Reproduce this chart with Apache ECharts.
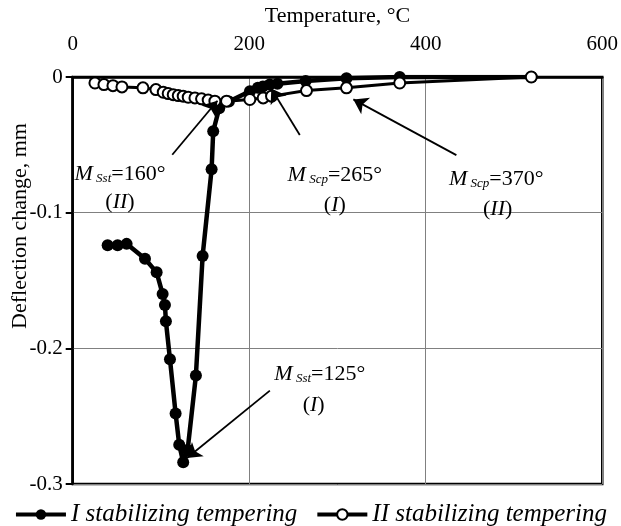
<!DOCTYPE html>
<html>
<head>
<meta charset="UTF-8" />
<title>Deflection change</title>
<script src="https://cdn.jsdelivr.net/npm/echarts@6/dist/echarts.min.js"></script>
<style type="text/css">
body{
	margin: 0px;
	background: #fff;
}
#chart{
	width: 621px;
	height: 526px;
}
</style>
</head>
<body>
<div id="chart"></div>

<script type="text/javascript">

// series I: stabilizing tempering I
var tempI = [39.6, 50.9, 61.1, 81.9, 95.1, 101.9, 104.5, 105.6, 110.2, 116.6, 120.7, 125.2, 130.2, 139.6, 147.2, 157.4, 159.2, 166, 177, 200.8, 209.8, 215.5, 223.3, 232, 264, 310.2, 370.5, 520];
var defI = [-0.124, -0.124, -0.123, -0.134, -0.144, -0.160, -0.168, -0.180, -0.208, -0.248, -0.271, -0.284, -0.275, -0.220, -0.132, -0.068, -0.040, -0.023, -0.018, -0.0105, -0.008, -0.007, -0.0056, -0.005, -0.003, -0.001, 0, 0];

// series II
var tempII = [25.2, 35.4, 45.6, 55.8, 79.6, 94.3, 102.6, 108.2, 113.9, 119.6, 125.2, 130.9, 138.5, 146.0, 153.5, 161.1, 174.3, 200.7, 215.8, 225.3, 264.9, 310.2, 370.5, 519.6];
var defII = [-0.0044, -0.0056, -0.0064, -0.0073, -0.0080, -0.0093, -0.0112, -0.0122, -0.0130, -0.0137, -0.0141, -0.0149, -0.0154, -0.0161, -0.0170, -0.0178, -0.0178, -0.0166, -0.0154, -0.0141, -0.0100, -0.0080, -0.0044, 0];

var seriesNames = ['I stabilizing tempering', 'II stabilizing tempering'];
var xTicks = [0, 600, 200];   // min, max, interval
var yTicks = [-0.3, 0, 0.1];

// annotation arrows, [from, to] in data coords
var arrows = [
	[[112.8, -0.0573], [164, -0.0175]],
	[[257.3, -0.0427], [225, -0.0085]],
	[[434.7, -0.0576], [318, -0.0165]],
	[[223.4, -0.2312], [129.5, -0.2808]]
];

// annotation labels
var notes = [
	{sub: 'Sst', val: '=160°', roman: 'II', at: [53.6, -0.0715], romanAt: [53.6, -0.0925]},
	{sub: 'Scp', val: '=265°', roman: 'I', at: [297, -0.0725], romanAt: [297, -0.0945]},
	{sub: 'Scp', val: '=370°', roman: 'II', at: [479.8, -0.0752], romanAt: [481.5, -0.0972]},
	{sub: 'Sst', val: '=125°', roman: 'I', at: [280, -0.2188], romanAt: [273, -0.2422]}
];

function zip(xs, ys){
	return xs.map(function(x, i){ return [x, ys[i]]; });
}

var FONT = 'Liberation Serif';

var chart = echarts.init(document.getElementById('chart'));

var option = {
	animation: false,
	backgroundColor: '#fff',
	textStyle: {fontFamily: FONT, color: '#000'},
	grid: {
		left: 72.7, right: 18.3, top: 74, bottom: 42,
		show: true, borderColor: '#000', borderWidth: 2.5
	},
	legend: {
		left: 'center', top: 497,
		itemWidth: 50, itemHeight: 13, itemGap: 18,
		lineStyle: {width: 4, color: '#000'},
		textStyle: {fontFamily: FONT, fontStyle: 'italic', fontSize: 25, color: '#000'},
		data: seriesNames
	},
	xAxis: {
		type: 'value', position: 'top',
		min: xTicks[0], max: xTicks[1], interval: xTicks[2],
		name: 'Temperature, °C', nameLocation: 'middle', nameGap: 50,
		nameTextStyle: {fontFamily: FONT, fontSize: 22, color: '#000'},
		axisLine: {show: true, lineStyle: {color: '#000', width: 2.5}},
		axisTick: {show: false},
		axisLabel: {fontFamily: FONT, fontSize: 21, color: '#000', margin: 22},
		splitLine: {show: true, lineStyle: {color: '#808080', width: 1}}
	},
	yAxis: {
		type: 'value',
		min: yTicks[0], max: yTicks[1], interval: yTicks[2],
		axisLine: {show: true, lineStyle: {color: '#000', width: 2.5}},
		axisTick: {show: true, length: 7, lineStyle: {color: '#000', width: 2}},
		axisLabel: {fontFamily: FONT, fontSize: 21, color: '#000', margin: 10},
		splitLine: {show: true, lineStyle: {color: '#808080', width: 1}}
	},
	series: [
		{
			name: seriesNames[0], type: 'line',
			data: zip(tempI, defI),
			symbol: 'circle', symbolSize: 12,
			lineStyle: {color: '#000', width: 4.5},
			itemStyle: {color: '#000'},
			emphasis: {disabled: true},
			z: 2,
			markLine: {
				silent: true,
				symbol: ['none', 'arrow'],
				symbolSize: 14,
				lineStyle: {color: '#000', width: 1.8, type: 'solid'},
				label: {show: false},
				emphasis: {disabled: true},
				data: arrows.map(function(a){ return [{coord: a[0]}, {coord: a[1]}]; })
			}
		},
		{
			name: seriesNames[1], type: 'line',
			data: zip(tempII, defII),
			symbol: 'circle', symbolSize: 11,
			lineStyle: {color: '#000', width: 3},
			itemStyle: {color: '#fff', borderColor: '#000', borderWidth: 2},
			emphasis: {disabled: true},
			z: 3
		}
	]
};

chart.setOption(option);

var rich = {
	m: {fontFamily: FONT, fontSize: 22, fontStyle: 'italic', fill: '#000'},
	s: {fontFamily: FONT, fontSize: 13, fontStyle: 'italic', fill: '#000', verticalAlign: 'bottom', padding: [6, 0, 0, 0]},
	n: {fontFamily: FONT, fontSize: 22, fill: '#000'},
	i: {fontFamily: FONT, fontSize: 22, fontStyle: 'italic', fill: '#000'}
};

var graphics = [{
	type: 'text',
	x: 20, y: 226,
	rotation: Math.PI / 2,
	style: {
		text: 'Deflection change, mm',
		font: '22px "Liberation Serif"',
		fill: '#000',
		align: 'center',
		verticalAlign: 'middle'
	}
}];

notes.forEach(function(n){
	var p = chart.convertToPixel({gridIndex: 0}, n.at);
	var q = chart.convertToPixel({gridIndex: 0}, n.romanAt);
	graphics.push({
		type: 'text', x: p[0], y: p[1],
		style: {
			text: '{m|M}{s| ' + n.sub + '}{n|' + n.val + '}',
			rich: rich, align: 'center', verticalAlign: 'middle'
		}
	});
	graphics.push({
		type: 'text', x: q[0], y: q[1],
		style: {
			text: '{n|(}{i|' + n.roman + '}{n|)}',
			rich: rich, align: 'center', verticalAlign: 'middle'
		}
	});
});

chart.setOption({graphic: graphics});

</script>
</body>
</html>
